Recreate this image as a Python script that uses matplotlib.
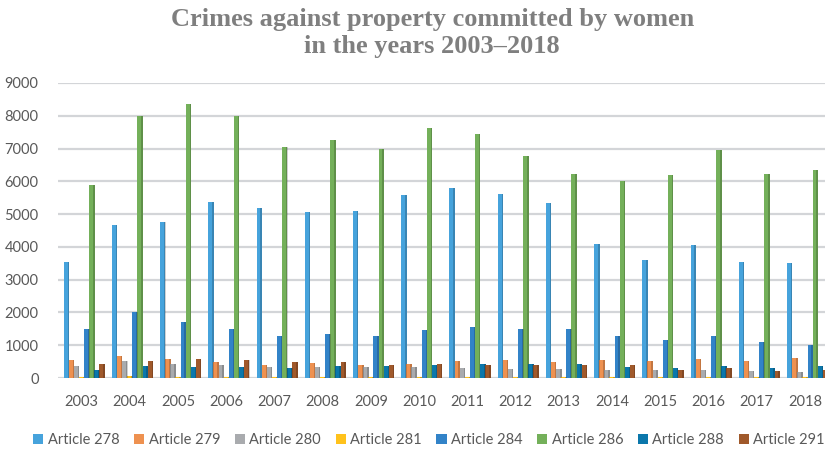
import numpy as np
import matplotlib.pyplot as plt

# Data
years = [str(y) for y in range(2003, 2019)]
art_278 = [3550, 4660, 4760, 5370, 5180, 5060, 5100, 5590, 5790, 5600, 5350, 4100, 3610, 4070, 3550, 3510]
art_279 = [550, 670, 590, 490, 400, 450, 390, 420, 510, 560, 500, 540, 510, 570, 520, 610]
art_280 = [370, 510, 420, 400, 330, 350, 330, 330, 315, 285, 285, 235, 235, 255, 205, 185]
art_281 = [40, 50, 40, 40, 40, 40, 30, 40, 30, 30, 40, 40, 40, 40, 30, 40]
art_284 = [1480, 2020, 1700, 1500, 1270, 1340, 1280, 1470, 1560, 1500, 1510, 1280, 1150, 1270, 1100, 1015]
art_286 = [5880, 8000, 8360, 7980, 7060, 7270, 6980, 7620, 7440, 6760, 6220, 6000, 6200, 6960, 6230, 6360]
art_288 = [240, 370, 350, 330, 300, 355, 370, 390, 420, 420, 420, 345, 315, 355, 315, 365]
art_291 = [440, 530, 570, 560, 490, 490, 400, 425, 400, 385, 385, 405, 255, 295, 225, 245]

series = [
    ("Article 278", art_278, "#46A3DC"),
    ("Article 279", art_279, "#EE9150"),
    ("Article 280", art_280, "#A9ABAE"),
    ("Article 281", art_281, "#FFC21C"),
    ("Article 284", art_284, "#3283C8"),
    ("Article 286", art_286, "#74B05A"),
    ("Article 288", art_288, "#0B77AB"),
    ("Article 291", art_291, "#A0592B"),
]

fig = plt.figure(figsize=(8.25, 4.51), dpi=100)
ax = fig.add_axes([58 / 825, 1 - 378 / 451, 767 / 825, (378 - 83) / 451])

x = np.arange(len(years))
step = 0.106
for k, (name, vals, color) in enumerate(series):
    pos = x + (k - 3.5) * step
    ax.bar(pos, vals, width=step * 1.05, color=color, label=name, zorder=3)
    # darker right face for a light 3-D look
    ax.bar(pos + step * 0.38, vals, width=step * 0.3, color="black", alpha=0.18,
           linewidth=0, zorder=4)

ax.set_xlim(-0.544, 15.36)
ax.set_ylim(0, 9000)
ax.set_yticks(range(0, 9001, 1000))
ax.yaxis.grid(True, color="#d3d5d8", linewidth=1.6, zorder=0)
ax.set_axisbelow(True)
for s in ax.spines.values():
    s.set_visible(False)
ax.tick_params(axis="both", length=0, labelsize=10.5, labelcolor="#595959")
ax.tick_params(axis="y", pad=14)
ax.tick_params(axis="x", pad=12)
ax.set_xticks(x - 0.056)
ax.set_xticklabels(years)
for lab in ax.get_xticklabels() + ax.get_yticklabels():
    lab.set_fontfamily("Lato")

fig.text(0.524, 1 - 33 / 451, "Crimes against property committed by women\nin the years 2003\u20132018",
         ha="center", va="center", fontsize=19, fontweight="bold",
         family="Liberation Serif", color="#7f7f7f", linespacing=1.25)

leg = fig.legend(loc="center", bbox_to_anchor=(0.52, 1 - 440 / 451), ncol=8, frameon=False,
                 handlelength=0.7, handleheight=0.7, handletextpad=0.3, columnspacing=1.0,
                 prop={"family": "Lato", "size": 10.5})
for t in leg.get_texts():
    t.set_color("#595959")

fig.savefig("out.png", dpi=100)
